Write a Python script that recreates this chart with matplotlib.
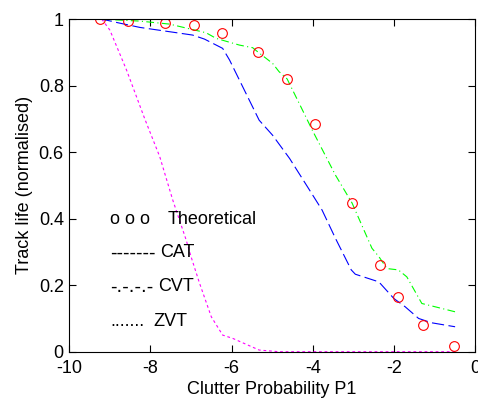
import matplotlib
matplotlib.use("Agg")
import matplotlib.pyplot as plt

plt.rcParams['font.family'] = ['Liberation Sans', 'DejaVu Sans']

theo_x = [-9.25, -8.55, -7.63, -6.93, -6.24, -5.34, -4.63, -3.95, -3.03, -2.34, -1.89, -1.29, -0.51]
theo_y = [1.0, 0.994, 0.987, 0.981, 0.959, 0.902, 0.820, 0.686, 0.447, 0.260, 0.164, 0.080, 0.017]

cat_x = [-9.25, -9.05, -8.8, -8.26, -7.41, -6.96, -6.67, -6.22, -6.05, -5.32, -4.99, -4.57, -4.13, -3.77, -3.44, -3.05, -2.95, -2.37, -2.0, -1.72, -1.39, -1.07, -0.49]
cat_y = [1.0, 0.996, 0.989, 0.975, 0.96, 0.952, 0.94, 0.912, 0.877, 0.696, 0.651, 0.581, 0.496, 0.426, 0.341, 0.246, 0.233, 0.21, 0.16, 0.135, 0.10, 0.087, 0.075]

cvt_x = [-9.25, -8.26, -7.53, -6.63, -6.38, -5.81, -5.48, -5.34, -4.99, -4.83, -4.63, -4.17, -4.01, -3.44, -3.03, -2.54, -2.37, -2.17, -1.89, -1.68, -1.31, -0.98, -0.49]
cvt_y = [1.0, 0.994, 0.985, 0.959, 0.942, 0.922, 0.914, 0.90, 0.867, 0.842, 0.82, 0.706, 0.666, 0.531, 0.447, 0.311, 0.286, 0.25, 0.246, 0.225, 0.145, 0.135, 0.12]

zvt_x = [-9.2, -9.0, -8.59, -8.14, -7.77, -7.45, -7.12, -7.0, -6.79, -6.5, -6.22, -5.97, -5.32, -4.83, -0.49]
zvt_y = [1.0, 0.967, 0.847, 0.70, 0.586, 0.456, 0.336, 0.286, 0.206, 0.105, 0.05, 0.04, 0.005, 0.0, 0.0]

xticks = [-10, -8, -6, -4, -2, 0]
yticks = [0, 0.2, 0.4, 0.6, 0.8, 1]
ytick_labels = ['0', '0.2', '0.4', '0.6', '0.8', '1']

legend_marks = ['o o o', '-------', '-.-.-.-', '.......']
legend_names = ['Theoretical', 'CAT', 'CVT', 'ZVT']
legend_mark_fonts = ['Liberation Sans', 'DejaVu Sans', 'DejaVu Sans', 'Liberation Sans']

fig = plt.figure(figsize=(4.78, 3.98), dpi=100)
ax = fig.add_axes([0.145, 0.1163, 0.8487, 0.8357])

ax.plot(cat_x, cat_y, color=(0, 0, 1), linestyle=(0, (11, 4)), linewidth=0.8)
ax.plot(cvt_x, cvt_y, color=(0, 1, 0), linestyle=(0, (7, 3, 1, 3)), linewidth=0.8)
ax.plot(zvt_x, zvt_y, color=(1, 0, 1), linestyle=(0, (2.5, 2.5)), linewidth=0.8)
ax.plot(theo_x, theo_y, linestyle='none', marker='o', markersize=7, markerfacecolor='none',
        markeredgecolor=(1, 0, 0), markeredgewidth=0.8)

ax.set_xlim(-10, 0)
ax.set_ylim(0, 1)
ax.set_xticks(xticks)
ax.set_xticklabels([str(t) for t in xticks])
ax.set_yticks(yticks)
ax.set_yticklabels(ytick_labels)
ax.tick_params(direction='in', top=True, right=True, length=5, width=0.8, labelsize=13)
ax.tick_params(axis='x', pad=6)
ax.tick_params(axis='y', pad=4)
for s in ax.spines.values():
    s.set_linewidth(0.8)

ax.set_xlabel('Clutter Probability P1', fontsize=13, labelpad=3)
ax.set_ylabel('Track life (normalised)', fontsize=13, labelpad=4)

mark_pos_y = [0.398, 0.297, 0.195, 0.092]
name_x = [-7.57, -7.77, -7.82, -7.94]
for m, n, y, nx, mf in zip(legend_marks, legend_names, mark_pos_y, name_x, legend_mark_fonts):
    ax.text(-9.0, y, m, fontsize=13, va='center', ha='left', family=mf)
    ax.text(nx, y, n, fontsize=13, va='center', ha='left')

fig.savefig('out.png', dpi=100)
